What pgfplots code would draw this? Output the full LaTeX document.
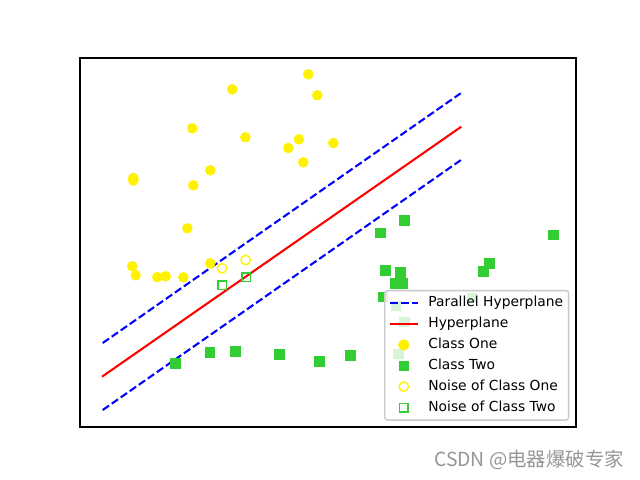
\documentclass[border=0pt]{standalone}
\usepackage{fontspec}
\setmainfont{DejaVu Sans}
\newfontfamily\cjk{Noto Sans CJK SC}
\usepackage{pgfplots}
\pgfplotsset{compat=1.18}
\definecolor{limegreen}{RGB}{50,205,50}
\definecolor{legframe}{RGB}{200,200,200}
\definecolor{wm}{RGB}{150,150,150}
\begin{document}
\begin{tikzpicture}
\useasboundingbox (0,0) rectangle (6.4in,4.8in);
\begin{axis}[
  at={(0.8in,0.53in)}, anchor=south west,
  scale only axis, width=4.96in, height=3.69in,
  xmin=80, xmax=576, ymin=53, ymax=422,
  xtick=\empty, ytick=\empty,
  axis line style={line width=0.8pt},
  legend style={at={(1,0)}, anchor=south east, xshift=-4.8pt, yshift=4.5pt,
    draw=legframe, line width=1pt, rounded corners=2pt,
    fill=white, fill opacity=0.8, text opacity=1, draw opacity=1,
    font=\fontsize{10}{12}\selectfont, row sep=3.6pt, column sep=6pt,
    inner xsep=3pt, inner ysep=3.3pt,
    nodes={inner sep=1pt, text height=7.5pt, text depth=2pt}},
  legend cell align=left,
  lineleg/.style={legend image code/.code={\draw[##1, fill opacity=1, draw opacity=1] (0pt,0pt) -- (20pt,0pt);}},
  markleg/.style={legend image code/.code={\draw[##1, fill opacity=1, draw opacity=1] plot coordinates {(10pt,0pt)};}},
]
% lines (drawn below the scatter)
\addplot[lineleg, blue, line width=1.5pt, dash pattern=on 5.55pt off 2.4pt] coordinates {(102.7,137) (460.7,386.7)};
\addlegendentry{Parallel Hyperplane}
\addplot[forget plot, blue, line width=1.5pt, dash pattern=on 5.55pt off 2.4pt] coordinates {(102.7,70) (461,320)};
\addplot[lineleg, red, line width=1.5pt] coordinates {(102,103.3) (461.3,353.3)};
\addlegendentry{Hyperplane}
% scatter
\addplot[forget plot, only marks, mark=*, mark size=3.6pt, draw=yellow, fill=yellow] coordinates {
(308.3,405.7) (232.3,390.7) (317.3,384.7) (192.3,351.7) (245.3,342.7) (299,340.7)
(288.3,332) (333.3,337) (303.3,317.7) (210.3,309.7) (133.3,302) (133.3,299.5)
(193.3,294.7) (187.3,251.7) (132.3,213.7) (135.7,204.7) (157.3,202.7) (165.7,203.7)
(183.3,202.7) (210.3,216.7)};
\addplot[forget plot, only marks, mark=square*, mark size=3.3pt, draw=limegreen, fill=limegreen] coordinates {
(175.3,116.7) (209.7,127.7) (235.3,128.7) (279.3,125.7) (319.3,118.7) (350.3,124.7)
(404.3,259.7) (380.3,247) (553.3,245) (489.3,216.7) (483.3,208.7) (385.3,209.7)
(400.3,207.7) (395,196.7) (402.3,196.7) (383,183) (396,174) (404.3,158) (398.3,126)
(471.7,182.3)};
\addplot[forget plot, only marks, mark=o, mark size=3.4pt, draw=yellow, line width=1pt] coordinates {
(222,211.7) (245.7,220)};
\addplot[forget plot, only marks, mark=square, mark size=3.1pt, draw=limegreen, line width=1pt] coordinates {
(222.3,194.7) (246.3,202.7)};
\addlegendimage{markleg, only marks, mark=*, mark size=3.6pt, draw=yellow, fill=yellow}
\addlegendentry{Class One}
\addlegendimage{markleg, only marks, mark=square*, mark size=3.3pt, draw=limegreen, fill=limegreen}
\addlegendentry{Class Two}
\addlegendimage{markleg, only marks, mark=o, mark size=3.4pt, draw=yellow, line width=1pt}
\addlegendentry{Noise of Class One}
\addlegendimage{markleg, only marks, mark=square, mark size=3.1pt, draw=limegreen, line width=1pt}
\addlegendentry{Noise of Class Two}
\end{axis}
\node[text=wm, font=\cjk\fontsize{14}{16}\selectfont] at (5.29in,0.20in) {CSDN @电器爆破专家};
\end{tikzpicture}
\end{document}
